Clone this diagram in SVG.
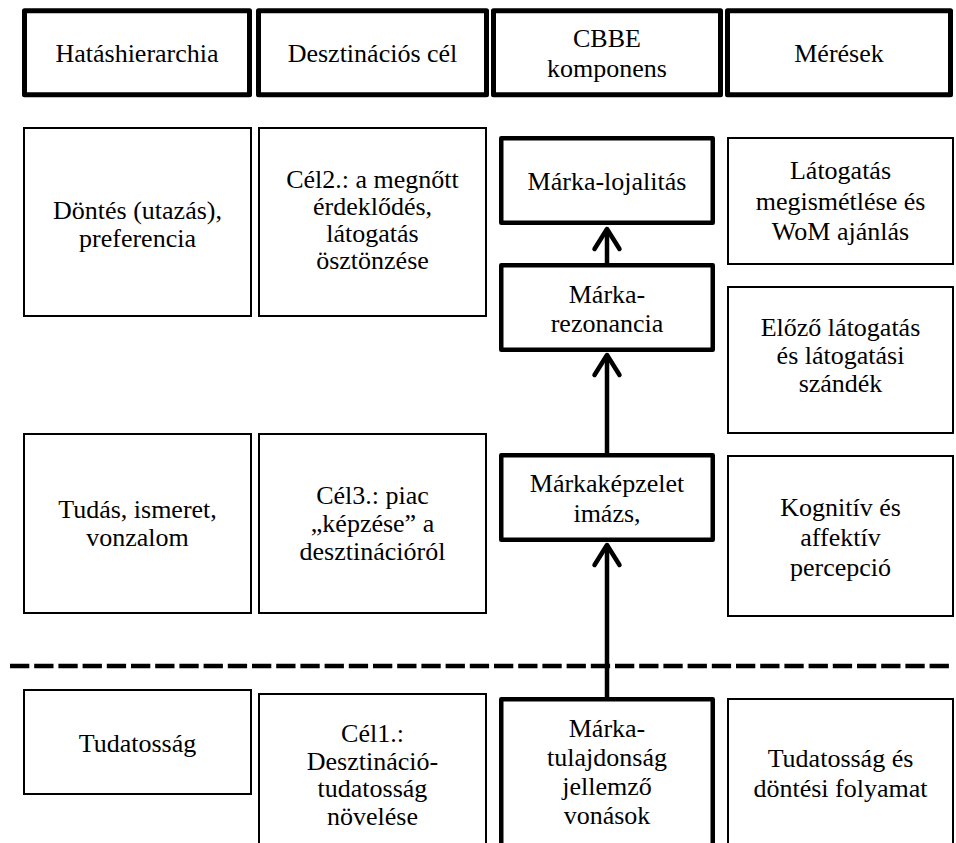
<svg xmlns="http://www.w3.org/2000/svg" width="956" height="843" viewBox="0 0 956 843">
<style>
text{font-family:"Liberation Serif","Times New Roman",serif;font-size:26px;fill:#000;text-anchor:middle}
.hdr{fill:#fff;stroke:#000;stroke-width:5;stroke-linejoin:round}
.thin{fill:#fff;stroke:#000;stroke-width:2}
.cbbe{fill:#fff;stroke:#000;stroke-width:4.5;stroke-linejoin:round}
.conn{fill:none;stroke:#000;stroke-width:4.5}
.dash{fill:none;stroke:#000;stroke-width:4.5;stroke-dasharray:19.3 4.9}
</style>
<defs>
<marker id="chev" markerUnits="userSpaceOnUse" markerWidth="40" markerHeight="40" refX="0" refY="0" viewBox="-30 -20 40 40" orient="auto" overflow="visible">
<path d="M-20,-12.5 L0,0 L-20,12.5" fill="none" stroke="#000" stroke-width="4.5" stroke-linecap="round" stroke-linejoin="round"/>
</marker>
</defs>
<rect width="956" height="843" fill="#fff"/>

<g id="h1"><rect class="hdr" x="24.5" y="10.8" width="225" height="84"/><text x="137" y="62">Hatáshierarchia</text></g>
<g id="h2"><rect class="hdr" x="258.5" y="10.8" width="228" height="84"/><text x="372.5" y="62">Desztinációs cél</text></g>
<g id="h3"><rect class="hdr" x="493.5" y="10.8" width="227" height="84"/><text x="607" y="47">CBBE</text><text x="607" y="77">komponens</text></g>
<g id="h4"><rect class="hdr" x="727.5" y="10.8" width="223" height="84"/><text x="839" y="62">Mérések</text></g>

<g id="dontes"><rect class="thin" x="24" y="128" width="227" height="188"/><text x="137.5" y="219">Döntés (utazás),</text><text x="137.5" y="247">preferencia</text></g>
<g id="cel2"><rect class="thin" x="259" y="128" width="227" height="188"/><text x="372.5" y="188">Cél2.: a megnőtt</text><text x="372.5" y="215">érdeklődés,</text><text x="372.5" y="242">látogatás</text><text x="372.5" y="269">ösztönzése</text></g>
<g id="lojalitas"><rect class="cbbe" x="501.25" y="138.25" width="211.5" height="84.5"/><text x="607" y="190">Márka-lojalitás</text></g>
<g id="latogatas"><rect class="thin" x="728" y="138" width="225" height="126"/><text x="840.5" y="179">Látogatás</text><text x="840.5" y="209.5">megismétlése és</text><text x="840.5" y="240">WoM ajánlás</text></g>

<g id="rezonancia"><rect class="cbbe" x="501.25" y="265.25" width="211.5" height="84.5"/><text x="607" y="303">Márka-</text><text x="607" y="332">rezonancia</text></g>
<g id="elozo"><rect class="thin" x="728" y="287" width="225" height="146"/><text x="840.5" y="336">Előző látogatás</text><text x="840.5" y="364">és látogatási</text><text x="840.5" y="392">szándék</text></g>

<g id="tudas"><rect class="thin" x="24" y="434" width="227" height="179"/><text x="137.5" y="518">Tudás, ismeret,</text><text x="137.5" y="546">vonzalom</text></g>
<g id="cel3"><rect class="thin" x="259" y="434" width="227" height="179"/><text x="372.5" y="504">Cél3.: piac</text><text x="372.5" y="532">„képzése” a</text><text x="372.5" y="560">desztinációról</text></g>
<g id="kepzelet"><rect class="cbbe" x="501.25" y="455.25" width="211.5" height="84.5"/><text x="607" y="492">Márkaképzelet</text><text x="607" y="522">imázs,</text></g>
<g id="kognitiv"><rect class="thin" x="728" y="456" width="225" height="160"/><text x="840.5" y="516">Kognitív és</text><text x="840.5" y="546">affektív</text><text x="840.5" y="576">percepció</text></g>

<g id="tudatossag"><rect class="thin" x="24" y="690" width="227" height="104"/><text x="137.5" y="752">Tudatosság</text></g>
<g id="cel1"><rect class="thin" x="259" y="694" width="227" height="170"/><text x="372.5" y="742">Cél1.:</text><text x="372.5" y="770">Desztináció-</text><text x="372.5" y="797">tudatosság</text><text x="372.5" y="825">növelése</text></g>
<g id="tulajdonsag"><rect class="cbbe" x="501.25" y="699.25" width="211.5" height="170"/><text x="607" y="737">Márka-</text><text x="607" y="766">tulajdonság</text><text x="607" y="795">jellemző</text><text x="607" y="824">vonások</text></g>
<g id="tudatossag-dontes"><rect class="thin" x="728" y="699" width="225" height="170"/><text x="840.5" y="767">Tudatosság és</text><text x="840.5" y="797">döntési folyamat</text></g>

<g id="connectors">
<path class="dash" d="M10,666 H953"/>
<path class="conn" d="M607,263 V229" marker-end="url(#chev)"/>
<path class="conn" d="M607,453 V355" marker-end="url(#chev)"/>
<path class="conn" d="M607,697 V545" marker-end="url(#chev)"/>
</g>
</svg>
